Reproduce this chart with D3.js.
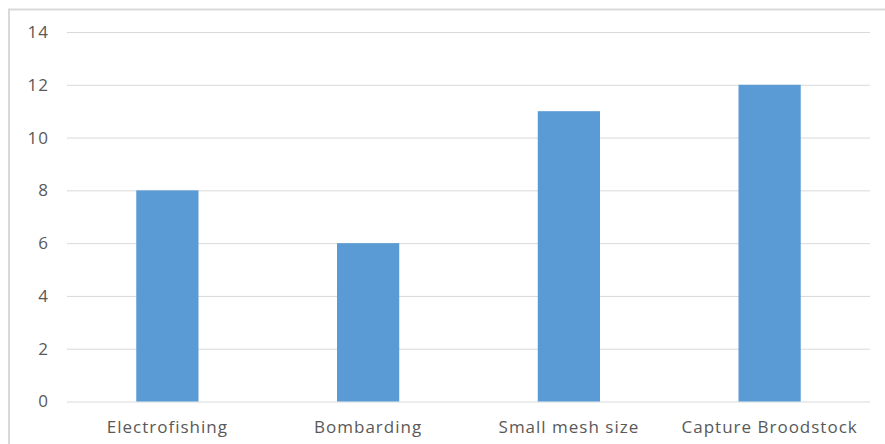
<!DOCTYPE html>
<html>
<head>
<meta charset="utf-8">
<script src="https://cdn.jsdelivr.net/npm/d3@7"></script>
<style>
  html, body { margin: 0; padding: 0; background: #fff; }
  svg { display: block; }
</style>
</head>
<body>
<svg id="chart" width="885" height="444"></svg>
<script>
// Categories and their counts
const categories = ["Electrofishing", "Bombarding", "Small mesh size", "Capture Broodstock"];
const values = [8, 6, 11, 12];
const yTicks = [0, 2, 4, 6, 8, 10, 12, 14];

const svg = d3.select("#chart");
const W = 885, H = 444;
const margin = { left: 67, right: 15, top: 32, bottom: 42.5 };

svg.append("rect").attr("width", W).attr("height", H).attr("fill", "#fff");

// Chart area frame (top and left edges visible)
svg.append("path")
  .attr("d", `M9,${H} L9,9.5 L${W},9.5`)
  .attr("fill", "none")
  .attr("stroke", "#d9d9d9")
  .attr("stroke-width", 2);

const x = d3.scaleBand()
  .domain(categories)
  .range([margin.left, W - margin.right])
  .paddingInner(0.69)
  .paddingOuter(0.345);

const y = d3.scaleLinear()
  .domain([0, 14])
  .range([H - margin.bottom, margin.top]);

const font = "'Open Sans', 'DejaVu Sans', sans-serif";

// Horizontal gridlines with value labels
const yAxis = d3.axisLeft(y)
  .tickValues(yTicks)
  .tickSize(-(W - margin.right - margin.left))
  .tickPadding(18)
  .tickFormat(d3.format("d"));

const gy = svg.append("g")
  .attr("transform", `translate(${margin.left},0)`)
  .call(yAxis);
gy.select(".domain").remove();
gy.selectAll(".tick line").attr("stroke", "#d9d9d9").attr("stroke-width", 1);
gy.selectAll(".tick text")
  .attr("fill", "#595959")
  .style("font-family", font)
  .style("font-size", "17px")
  .style("letter-spacing", "1px");

// Bars
svg.append("g")
  .selectAll("rect")
  .data(values)
  .join("rect")
  .attr("x", (d, i) => x(categories[i]))
  .attr("y", d => y(d))
  .attr("width", x.bandwidth())
  .attr("height", d => y(0) - y(d))
  .attr("fill", "#5b9bd5");

// Category labels
const xAxis = d3.axisBottom(x).tickSize(0).tickPadding(19);
const gx = svg.append("g")
  .attr("transform", `translate(0,${y(0)})`)
  .call(xAxis);
gx.select(".domain").remove();
gx.selectAll(".tick text")
  .attr("fill", "#595959")
  .style("font-family", font)
  .style("font-size", "17px")
  .style("letter-spacing", "1px");
</script>
</body>
</html>
